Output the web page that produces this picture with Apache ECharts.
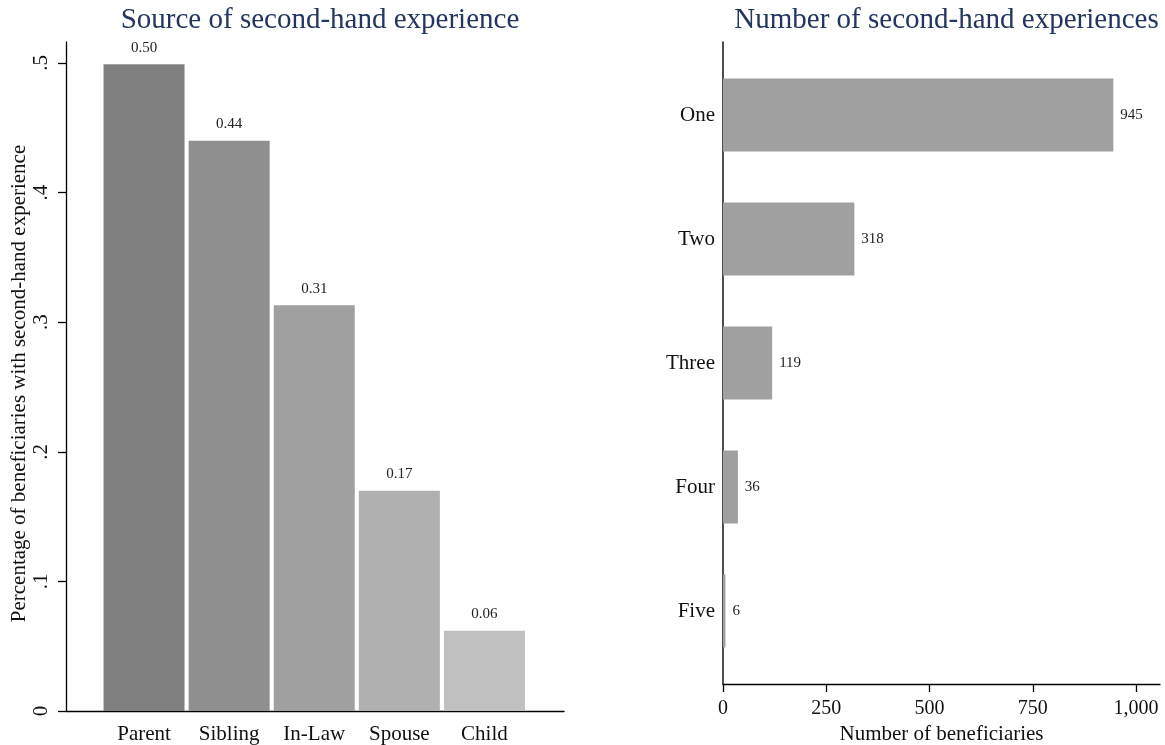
<!DOCTYPE html>
<html>
<head>
<meta charset="utf-8">
<script src="https://cdn.jsdelivr.net/npm/echarts@6/dist/echarts.min.js"></script>
<style>
html,body{margin:0;padding:0;background:#fff;}
#chart{width:1165px;height:745px;}
</style>
</head>
<body>
<div id="chart"></div>
<script>
// ---- data ----
var sourceCategories = ['Parent', 'Sibling', 'In-Law', 'Spouse', 'Child'];
var sourceShares = [0.499, 0.44, 0.313, 0.17, 0.062];
var shareTicks = [0, 0.1, 0.2, 0.3, 0.4, 0.5];
var countCategories = ['One', 'Two', 'Three', 'Four', 'Five'];
var countValues = [945, 318, 119, 36, 6];
var countTicks = [0, 250, 500, 750, 1000];
var leftTitle = 'Source of second-hand experience';
var rightTitle = 'Number of second-hand experiences';
var leftYName = 'Percentage of beneficiaries with second-hand experience';
var rightXName = 'Number of beneficiaries';

// ---- styles ----
var FONT = 'Liberation Serif';
var barGrays = ['#808080', '#8f8f8f', '#a0a0a0', '#b0b0b0', '#c0c0c0'];
var titleColor = '#22365f';
var txt = '#111';

var chart = echarts.init(document.getElementById('chart'), null, {renderer: 'canvas'});

function fmtShareTick(v) {
  if (v === 0) return '0';
  return String(Math.round(v * 10) / 10).replace(/^0\./, '.');
}
function fmtThousands(v) {
  return String(v).replace(/\B(?=(\d{3})+(?!\d))/g, ',');
}

var leftMax = 0.5162;
var rightMax = 1058;

var option = {
  animation: false,
  backgroundColor: '#fff',
  textStyle: {fontFamily: FONT},
  title: [
    {text: leftTitle, left: 315, top: 1, textAlign: 'center',
     textStyle: {fontFamily: FONT, fontSize: 29, fontWeight: 'normal', color: titleColor}},
    {text: rightTitle, left: 941.5, top: 1, textAlign: 'center',
     textStyle: {fontFamily: FONT, fontSize: 29, fontWeight: 'normal', color: titleColor}}
  ],
  grid: [
    {left: 66, top: 42, width: 498, height: 669, outerBoundsMode: 'none', containLabel: false},
    {left: 101.5, top: 42, width: 425.5, height: 669, outerBoundsMode: 'none', containLabel: false},
    {left: 723, top: 42, width: 437, height: 642, outerBoundsMode: 'none', containLabel: false},
    {left: 723, top: 53, width: 437, height: 620, outerBoundsMode: 'none', containLabel: false}
  ],
  xAxis: [
    {gridIndex: 0, type: 'value', min: 0, max: 1,
     axisLine: {show: true, lineStyle: {color: '#000', width: 1.3}},
     axisTick: {show: false}, axisLabel: {show: false}, splitLine: {show: false}},
    {gridIndex: 1, type: 'category', data: sourceCategories,
     axisLine: {show: false}, axisTick: {show: false},
     axisLabel: {fontFamily: FONT, fontSize: 21, color: txt, margin: 13},
     splitLine: {show: false}},
    {gridIndex: 2, type: 'value', min: 0, max: rightMax,
     axisLine: {show: true, lineStyle: {color: '#000', width: 1.3}},
     axisTick: {show: true, length: 8, customValues: countTicks, lineStyle: {color: '#000', width: 1.3}},
     axisLabel: {fontFamily: FONT, fontSize: 20, color: txt, margin: 15, customValues: countTicks,
                 formatter: fmtThousands},
     splitLine: {show: false},
     name: rightXName, nameLocation: 'middle', nameGap: 35,
     nameTextStyle: {fontFamily: FONT, fontSize: 21, color: txt}},
    {gridIndex: 3, type: 'value', min: 0, max: rightMax, show: false}
  ],
  yAxis: [
    {gridIndex: 0, type: 'value', min: 0, max: leftMax,
     axisLine: {show: true, lineStyle: {color: '#000', width: 1.3}},
     axisTick: {show: true, length: 8, customValues: shareTicks, lineStyle: {color: '#000', width: 1.3}},
     axisLabel: {fontFamily: FONT, fontSize: 21, color: txt, rotate: 90, margin: 14,
                 customValues: shareTicks, formatter: fmtShareTick},
     splitLine: {show: false},
     name: leftYName, nameLocation: 'middle', nameGap: 36, nameRotate: 90,
     nameTextStyle: {fontFamily: FONT, fontSize: 21, color: txt, padding: [0, 14, 0, 0]}},
    {gridIndex: 1, type: 'value', min: 0, max: leftMax, show: false},
    {gridIndex: 2, type: 'value', min: 0, max: 1,
     axisLine: {show: true, onZero: false, lineStyle: {color: '#222', width: 1.6}},
     axisTick: {show: false}, axisLabel: {show: false}, splitLine: {show: false}},
    {gridIndex: 3, type: 'category', data: countCategories, inverse: true,
     axisLine: {show: false}, axisTick: {show: false},
     axisLabel: {fontFamily: FONT, fontSize: 21, color: txt, margin: 8},
     splitLine: {show: false}}
  ],
  series: [
    {type: 'bar', xAxisIndex: 1, yAxisIndex: 1, data: sourceShares, barWidth: 81,
     itemStyle: {color: function (p) { return barGrays[p.dataIndex]; }},
     label: {show: true, position: 'top', distance: 9, fontFamily: FONT, fontSize: 15, color: '#222',
             formatter: function (p) { return p.value.toFixed(2); }}},
    {type: 'bar', xAxisIndex: 3, yAxisIndex: 3, data: countValues, barWidth: 73,
     itemStyle: {color: '#a0a0a0'},
     label: {show: true, position: 'right', distance: 7, fontFamily: FONT, fontSize: 15, color: '#222'}}
  ]
};
chart.setOption(option);
</script>
</body>
</html>
